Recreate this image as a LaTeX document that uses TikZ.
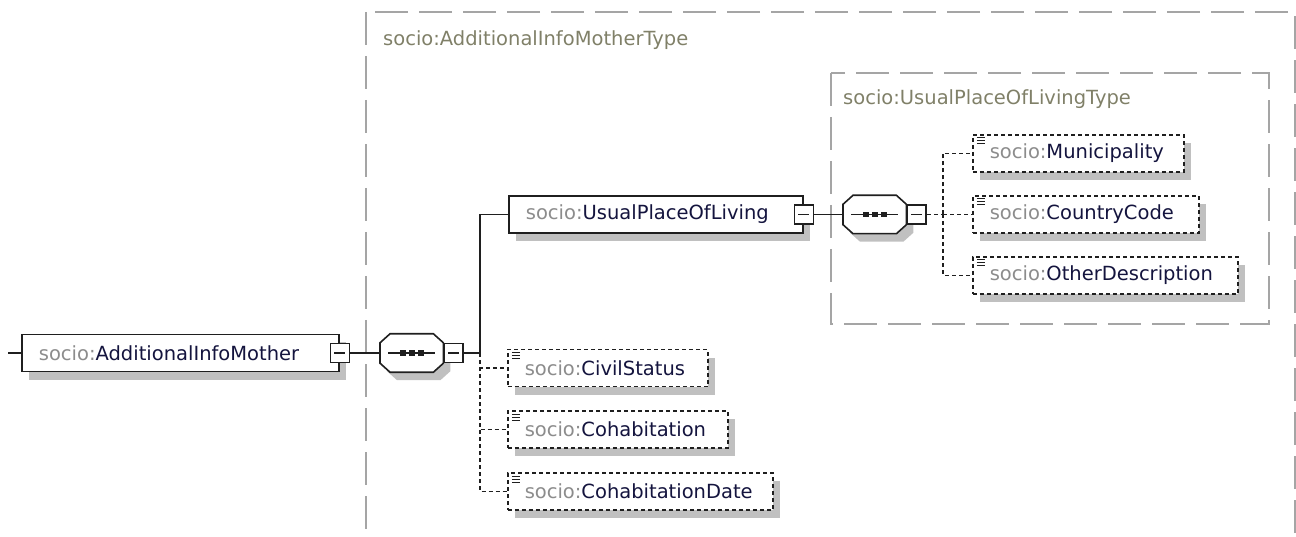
\documentclass[tikz,border=0pt]{standalone}
\usepackage{fontspec}
\setmainfont{DejaVu Sans}
\usetikzlibrary{shadows}
\definecolor{shadowgrey}{RGB}{192,192,192}
\definecolor{typegrey}{RGB}{165,165,165}
\definecolor{typetext}{RGB}{128,128,104}
\definecolor{nsgrey}{RGB}{140,140,140}
\definecolor{elname}{RGB}{20,20,62}
\colorlet{edge}{black!88}
\newcommand{\socio}[1]{{\color{nsgrey}socio:}{\color{elname}#1}}
% octagon round a sequence node, moved by (#2,#3)
\newcommand{\octpath}[3]{([shift={(10pt+#2,#3)}]#1.north west) -- ([shift={(-10pt+#2,#3)}]#1.north east)
  -- ([shift={(#2,-9pt+#3)}]#1.north east) -- ([shift={(#2,9pt+#3)}]#1.south east)
  -- ([shift={(-10pt+#2,#3)}]#1.south east) -- ([shift={(10pt+#2,#3)}]#1.south west)
  -- ([shift={(#2,9pt+#3)}]#1.south west) -- ([shift={(#2,-9pt+#3)}]#1.north west) -- cycle}
\newcommand{\seqsym}[1]{%
  \fill[shadowgrey] \octpath{#1}{7pt}{-8pt};
  \draw[seqline,fill=white] \octpath{#1}{0pt}{0pt};
  \draw[seqline] ([xshift=8pt]#1.west) -- ([xshift=-8pt]#1.east);
  \foreach \d in {-9,0,9}
    \fill[edge] ([xshift=\d pt]#1.center) +(-2.8pt,-2.8pt) rectangle +(2.8pt,2.8pt);}
\tikzset{
  shade/.style={drop shadow={shadow xshift=7pt,shadow yshift=-8pt,fill=shadowgrey,opacity=1}},
  elem/.style={draw=edge,line width=1.7pt,fill=white,shade,minimum height=37pt,text width=#1,align=left,anchor=west,inner xsep=17pt},
  leaf/.style={elem=#1,line width=1.5pt,dash pattern=on 4pt off 3pt,
    path picture={\foreach \k in {3,6,9}
      \draw[solid,line width=1pt,edge] ([shift={(4pt,-\k pt)}]path picture bounding box.north west) -- ++(8pt,0);}},
  minus/.style={draw=edge,fill=white,line width=1.4pt,minimum size=19pt,inner sep=0pt,
    path picture={\draw[line width=1.3pt,edge] ([xshift=4pt]path picture bounding box.west) -- ([xshift=-4pt]path picture bounding box.east);}},
  seq/.style={minimum width=63pt,minimum height=38pt,inner sep=0pt,anchor=west},
  seqline/.style={draw=edge,line width=1.6pt},
  typebox/.style={draw=typegrey,line width=1.5pt,dash pattern=on 33pt off 11pt},
  typelabel/.style={text=typetext,anchor=west,inner sep=0pt},
  link/.style={draw=edge,line width=1.5pt},
  optlink/.style={link,dash pattern=on 4pt off 3pt}
}

\begin{document}
\begin{tikzpicture}[x=1pt,y=-1pt,font=\fontsize{19.5}{22}\selectfont]
  \useasboundingbox (0,0) rectangle (1296,537);
  \clip (0,0) rectangle (1296,537);
  % complex types
  \draw[typebox] (366,12) rectangle (1295,600);
  \node[typelabel] (outerlbl) at (383,40) {socio:AdditionalInfoMotherType};
  \draw[typebox] (831,73) rectangle (1269,324);
  \node[typelabel] (innerlbl) at (843,99) {socio:UsualPlaceOfLivingType};
  % root element
  \coordinate (in) at (8,353);
  \node[elem=283pt] (root) at (21,353) {\socio{AdditionalInfoMother}};
  \node[minus] (rootx) at (root.east) {};
  \node[seq] (seqa) at (380,353) {};
  \seqsym{seqa}
  \node[minus,anchor=west] (seqax) at (seqa.east) {};
  \coordinate (ja) at (480,353);
  % children
  \node[elem=260pt] (upl) at (508,214.5) {\socio{UsualPlaceOfLiving}};
  \node[minus] (uplx) at (upl.east) {};
  \node[leaf=166pt] (civ) at (507,368) {\socio{CivilStatus}};
  \node[leaf=186pt] (coh) at (507,429.5) {\socio{Cohabitation}};
  \node[leaf=231pt] (cohd) at (507,491.5) {\socio{CohabitationDate}};
  % place of living
  \node[seq] (seqb) at (843,214.5) {};
  \seqsym{seqb}
  \node[minus,anchor=west] (seqbx) at (seqb.east) {};
  \coordinate (jb) at (943,214.5);
  \node[leaf=177pt] (mun) at (972,153.5) {\socio{Municipality}};
  \node[leaf=192pt] (cc) at (972,214.5) {\socio{CountryCode}};
  \node[leaf=231pt] (od) at (972,275.5) {\socio{OtherDescription}};
  % connectors
  \draw[link] (in) -- (root.west);
  \draw[link] (rootx.east) -- (seqa.west);
  \draw[link] (seqax.east) -- (ja) |- (upl.west);
  \foreach \n in {civ,coh,cohd}
    \draw[optlink] (ja) |- (\n.west);
  \draw[link] (uplx.east) -- (seqb.west);
  \draw[optlink] (seqbx.east) -- (jb);
  \foreach \n in {mun,cc,od}
    \draw[optlink] (jb) |- (\n.west);
\end{tikzpicture}
\end{document}
